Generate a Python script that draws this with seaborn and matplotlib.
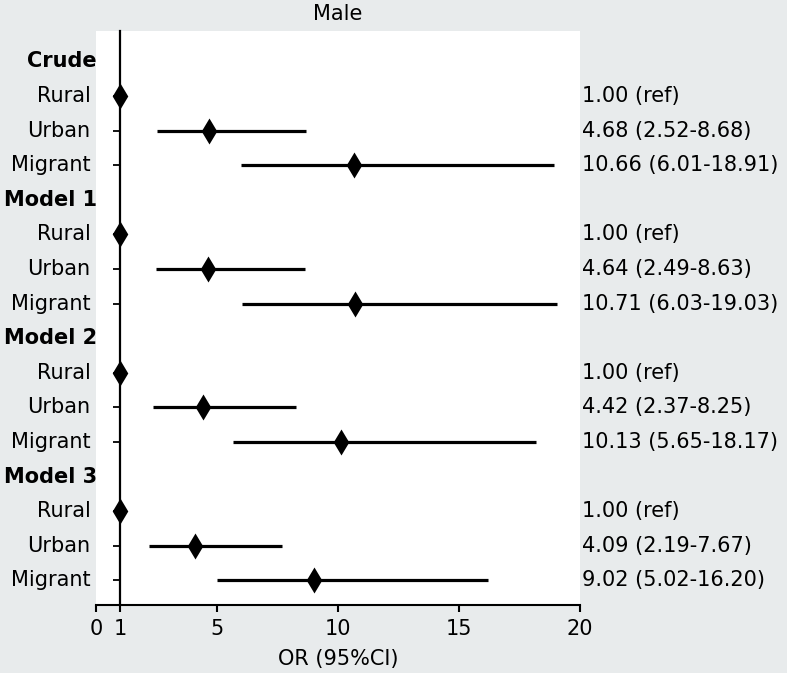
import numpy as np
import pandas as pd
import seaborn as sns
import matplotlib.pyplot as plt

# forest plot values
models = ["Crude", "Model 1", "Model 2", "Model 3"]
groups = ["Rural", "Urban", "Migrant"]
or_vals = [1.00, 4.68, 10.66, 1.00, 4.64, 10.71, 1.00, 4.42, 10.13, 1.00, 4.09, 9.02]
ci_low = [1.00, 2.52, 6.01, 1.00, 2.49, 6.03, 1.00, 2.37, 5.65, 1.00, 2.19, 5.02]
ci_high = [1.00, 8.68, 18.91, 1.00, 8.63, 19.03, 1.00, 8.25, 18.17, 1.00, 7.67, 16.20]
right_labels = ["1.00 (ref)", "4.68 (2.52-8.68)", "10.66 (6.01-18.91)",
                "1.00 (ref)", "4.64 (2.49-8.63)", "10.71 (6.03-19.03)",
                "1.00 (ref)", "4.42 (2.37-8.25)", "10.13 (5.65-18.17)",
                "1.00 (ref)", "4.09 (2.19-7.67)", "9.02 (5.02-16.20)"]

rows = []
for i, m in enumerate(models):
    for j, g in enumerate(groups):
        k = i * 3 + j
        rows.append({"model": m, "group": g, "OR": or_vals[k], "lo": ci_low[k],
                     "hi": ci_high[k], "txt": right_labels[k], "ypos": i * 4 + j + 1})
df = pd.DataFrame(rows)

sns.set_theme(style="ticks")
plt.rcParams['font.family'] = ['DejaVu Sans']
plt.rcParams['text.color'] = 'black'
plt.rcParams['axes.labelcolor'] = 'black'
plt.rcParams['xtick.color'] = 'black'
plt.rcParams['ytick.color'] = 'black'
bg = "#e8ebec"
fs = 15

fig = plt.figure(figsize=(7.87, 6.73), dpi=100, facecolor=bg)
ax = fig.add_axes([0.122, 0.101, 0.615, 0.853])
ax.set_facecolor("white")

for _, r in df.iterrows():
    if r.hi > r.lo:
        ax.hlines(r.ypos, r.lo, r.hi, color="black", lw=2.3, zorder=2)

sns.scatterplot(data=df, x="OR", y="ypos", marker="d", s=175, color="black",
                edgecolor="black", linewidth=0, ax=ax, zorder=3, legend=False)

# right hand estimates
for _, r in df.iterrows():
    ax.text(1.004, r.ypos, r.txt, transform=ax.get_yaxis_transform(),
            ha="left", va="center", fontsize=fs)

# left hand labels
for i, m in enumerate(models):
    ax.text(0.002, i * 4, m, transform=ax.get_yaxis_transform(),
            ha="right", va="center", fontsize=fs, fontweight="bold")
for _, r in df.iterrows():
    ax.text(-0.011, r.ypos, r.group, transform=ax.get_yaxis_transform(),
            ha="right", va="center", fontsize=fs)

ax.set_yticks(df["ypos"])
ax.set_yticklabels([])
ax.tick_params(axis="y", length=5, width=1.3, direction="out", left=True)

ax.set_ylim(15.71, -0.88)
ax.set_xlim(0, 20)
ax.set_xticks([0, 1, 5, 10, 15, 20])
ax.tick_params(axis="x", length=5, width=1.5, labelsize=fs, bottom=True, pad=5)
ax.set_xlabel("OR (95%CI)", fontsize=fs, labelpad=7)
ax.set_ylabel("")
ax.set_title("Male", fontsize=fs, pad=8)

for s in ["top", "right"]:
    ax.spines[s].set_visible(False)
ax.spines["left"].set_position(("data", 1))
ax.spines["left"].set_color("black")
ax.spines["left"].set_linewidth(1.6)
ax.spines["bottom"].set_color("black")
ax.spines["bottom"].set_linewidth(1.5)

fig.savefig("out.png", dpi=100, facecolor=bg)
